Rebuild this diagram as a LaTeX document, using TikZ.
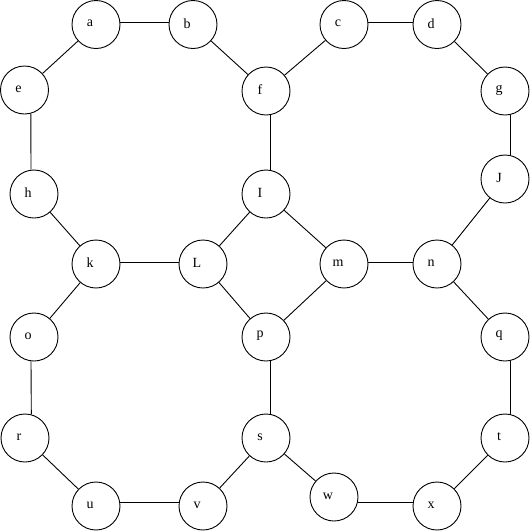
\documentclass[tikz,border=0pt]{standalone}
\usepackage{fontspec}
\setmainfont{Liberation Serif}
\begin{document}
\begin{tikzpicture}[x=1pt,y=-1pt,
  vtx/.style={circle,draw,line width=0.9pt,minimum size=48pt,inner sep=0pt},
  lbl/.style={font=\fontsize{14}{16}\selectfont,inner sep=0pt},
  edge/.style={line width=0.9pt}]
\useasboundingbox (0,0) rectangle (530,531);
\foreach \n/\x/\y in {a/96/24.5,b/193/24.5,c/344/24.5,d/437/24.5,
  e/24.5/90,f/266/91,g/505/91,
  h/34/194,I/266/194,J/505/179,
  k/96/264,L/203/264,m/344/264,n/437/264,
  o/34/337,p/266/337,q/505/337,
  r/25/438,s/266/438,t/505/438,
  u/96/506,v/203/506,w/334/497,x/437/506}{
  \node[vtx] (\n) at (\x,\y) {};
  \node[lbl] (\n-t) at (\x-6,\y-1) {\n};
}
% diagonal connectors
\foreach \p/\q in {a/e,b/f,c/f,d/g,h/k,I/L,I/m,J/n,k/o,L/p,m/p,n/q,r/u,s/v,s/w,t/x}{
  \draw[edge] (\p) -- (\q);
}
% horizontal connectors (yshift is in canvas units: positive = up)
\draw[edge] ([yshift=2.5pt]a.east) -- ([yshift=2.5pt]b.west);
\draw[edge] ([yshift=2.5pt]c.east) -- ([yshift=2.5pt]d.west);
\draw[edge] ([yshift=2pt]k.east) -- ([yshift=2pt]L.west);
\draw[edge] ([yshift=2pt]m.east) -- ([yshift=2pt]n.west);
\draw[edge] ([yshift=4pt]u.east) -- ([yshift=4pt]v.west);
\draw[edge] ([yshift=-5pt]w.east) -- ([yshift=4pt]x.west);
% vertical connectors
\draw[edge] (e.-75) -- ([xshift=-3pt]h.north);
\draw[edge] ([xshift=-3pt]o.south) -- (r.75);
\draw[edge] ([xshift=4pt]f.south) -- ([xshift=4pt]I.north);
\draw[edge] ([xshift=4pt]p.south) -- ([xshift=4pt]s.north);
\draw[edge] ([xshift=5pt]g.south) -- ([xshift=5pt]J.north);
\draw[edge] ([xshift=5pt]q.south) -- ([xshift=5pt]t.north);
\end{tikzpicture}
\end{document}
